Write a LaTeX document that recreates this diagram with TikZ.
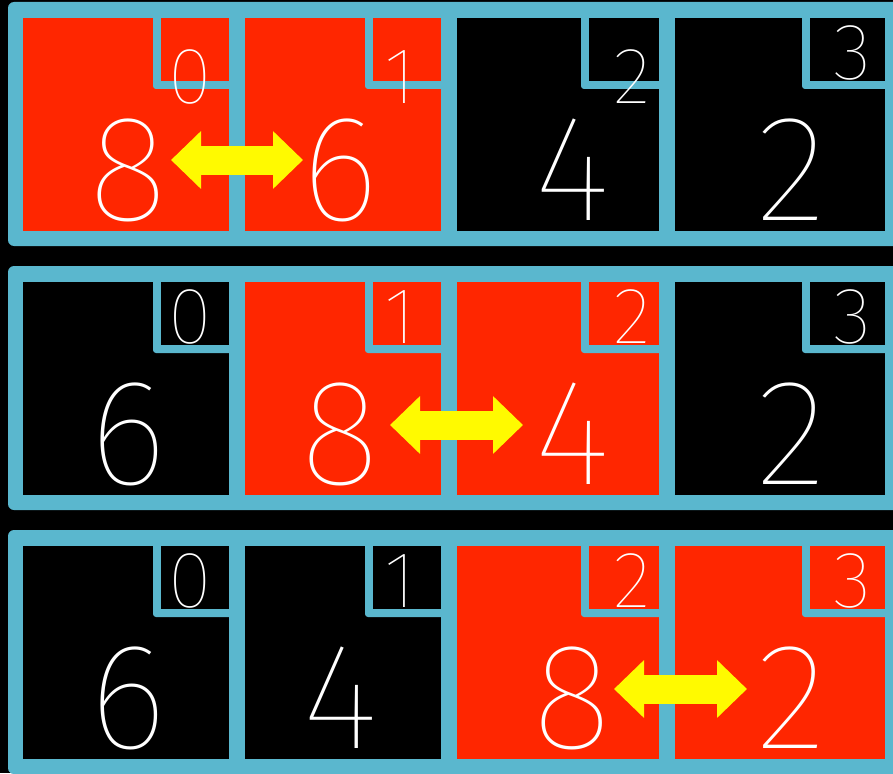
\documentclass[tikz,border=0pt]{standalone}
\usepackage{fontspec}
\newfontfamily\thinfont{Fira Sans Thin}
\usetikzlibrary{arrows.meta}
\definecolor{cy}{RGB}{90,183,206}
\definecolor{rd}{RGB}{255,38,0}
\definecolor{yl}{RGB}{255,250,0}
\begin{document}
\begin{tikzpicture}[x=1pt,y=-1pt,
  rowbox/.style={fill=cy, rounded corners=6pt, inner sep=0pt, outer sep=0pt, minimum width=897pt, minimum height=244pt, anchor=north west},
  cellbox/.style={inner sep=0pt, outer sep=0pt, anchor=north west, minimum height=213pt},
  bignum/.style={text=white, inner sep=0pt, font=\thinfont\fontsize{151}{151}\selectfont},
  idxnum/.style={text=white, inner sep=0pt, font=\thinfont\fontsize{80}{80}\selectfont},
  swaparrow/.style={draw=yl, line width=29pt, {Triangle[length=30pt,width=56pt]}-{Triangle[length=30pt,width=56pt]}}]
\useasboundingbox (0,0) rectangle (893,773);
\fill[black] (0,0) rectangle (893,773);
\foreach \r/\T in {1/18,2/282,3/546}{
  \node[rowbox] (row\r) at (8,\T-16) {};
  \foreach \c/\L/\R/\V/\bx/\ix in {0/23/229/153/128/190, 1/245/441/365/340/400, 2/457/659/581/572/632, 3/675/885/802/792/852}{
    \pgfmathtruncatemacro\mynum{{8,6,4,2,6,8,4,2,6,4,8,2}[4*(\r-1)+\c]}
    \pgfmathtruncatemacro\isred{((\c==\r-1)||(\c==\r)) ? 1 : 0}
    \ifnum\isred=1 \def\cellcol{rd}\else\def\cellcol{black}\fi
    \pgfmathtruncatemacro\iy{((\r==1)&&(\c<3)) ? 59 : 35}
    \pgfmathsetmacro\w{\R-\L}
    \node[cellbox, fill=\cellcol, minimum width=\w pt] (c\r\c) at (\L,\T) {};
    \fill[cy, rounded corners=3pt] (\V,\T-8) rectangle (\R+8,\T+71);
    \fill[\cellcol] (\V+8,\T) rectangle (\R,\T+63);
    \node[bignum] (n\r\c) at (\bx,\T+152) {\mynum};
    \node[idxnum] (i\r\c) at (\ix,\T+\iy) {\c};
  }
}
\coordinate (a1l) at (171,160); \coordinate (a1r) at (303,160);
\coordinate (a2l) at (390,425); \coordinate (a2r) at (523,425);
\coordinate (a3l) at (614,689); \coordinate (a3r) at (747,689);
\draw[swaparrow] (a1l) -- (a1r);
\draw[swaparrow] (a2l) -- (a2r);
\draw[swaparrow] (a3l) -- (a3r);
\end{tikzpicture}
\end{document}
